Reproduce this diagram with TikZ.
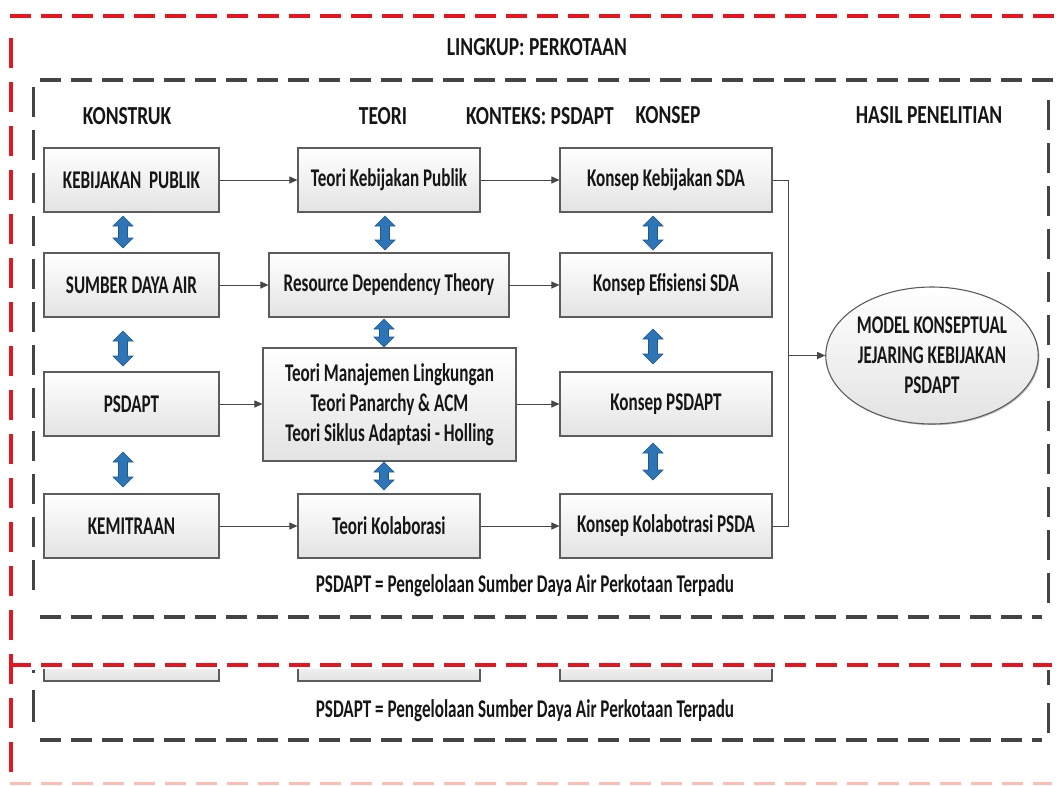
\documentclass[tikz,border=0pt]{standalone}
\usepackage{fontspec}
\setmainfont{Carlito}[FakeStretch=0.67]
\newfontfamily\hdrfont{Carlito}[FakeStretch=0.75]
\usetikzlibrary{arrows.meta,shapes.geometric,shadows}
\definecolor{redline}{RGB}{228,22,32}
\definecolor{redfaint}{RGB}{252,190,178}
\definecolor{grayline}{RGB}{68,68,68}
\definecolor{ablue}{RGB}{46,117,182}
\definecolor{ablueedge}{RGB}{28,88,148}
\definecolor{txt}{RGB}{22,22,22}
\definecolor{boxedge}{RGB}{92,92,92}
\newcommand{\bluedbl}[3]{%
  \filldraw[fill=ablue,draw=ablueedge,line width=0.6pt]
  ({#1-4.5},{#2+10}) -- ({#1-10},{#2+10}) -- (#1,#2) -- ({#1+10},{#2+10}) -- ({#1+4.5},{#2+10})
  -- ({#1+4.5},{#3-10}) -- ({#1+10},{#3-10}) -- (#1,#3) -- ({#1-10},{#3-10}) -- ({#1-4.5},{#3-10}) -- cycle;}
\begin{document}
\begin{tikzpicture}[x=1pt,y=-1pt,
  box/.style={draw=boxedge, line width=1.1pt, top color=white, bottom color=black!11,
    minimum height=64pt, inner sep=2pt, text=txt, align=center,
    font=\bfseries\fontsize{25.5}{30}\selectfont,
    drop shadow={shadow xshift=1.2pt,shadow yshift=-1.2pt,opacity=0.25,fill=black}},
  hdr/.style={text=txt, font=\hdrfont\bfseries\fontsize{26}{30}\selectfont, inner sep=0pt},
  note/.style={text=txt, font=\bfseries\fontsize{25.5}{30}\selectfont, inner sep=0pt},
  hred/.style={draw=redline, line width=3.8pt, dash pattern=on 21pt off 10pt},
  vred/.style={draw=redline, line width=3.8pt, dash pattern=on 30pt off 14pt},
  hgray/.style={draw=grayline, line width=3.8pt, dash pattern=on 21pt off 10pt},
  vgray/.style={draw=grayline, line width=3pt, dash pattern=on 30pt off 13pt},
  link/.style={draw=black!72, line width=1pt},
  conn/.style={link, -{Triangle[length=8pt,width=7pt]}}
]
\useasboundingbox (0,0) rectangle (1060,785);
\fill[white] (0,0) rectangle (1060,785);

% ---------- frames ----------
\draw[hred] (10,16) -- (1060,16);
\draw[vred] (11,38) -- (11,785);
\draw[hgray] (40,80) -- (1060,80);
\draw[vgray] (33,87) -- (33,600);
\draw[vgray] (1048,100) -- (1048,612);
\draw[hgray] (40,617) -- (1042,617);

% ---------- headers ----------
\node[hdr] (lingkup) at (537,47) {LINGKUP: PERKOTAAN};
\node[hdr] (hkonstruk) at (127,116) {KONSTRUK};
\node[hdr] (hteori) at (383,116) {TEORI};
\node[hdr] (hkonteks) at (540,116) {KONTEKS: PSDAPT};
\node[hdr] (hkonsep) at (668,115) {KONSEP};
\node[hdr] (hhasil) at (929,115) {HASIL PENELITIAN};

% ---------- column 1 ----------
\node[box, minimum width=175pt] (c1) at (131.5,180) {KEBIJAKAN\ \ PUBLIK};
\node[box, minimum width=175pt] (c2) at (131.5,285) {SUMBER DAYA AIR};
\node[box, minimum width=175pt] (c3) at (131.5,404) {PSDAPT};
\node[box, minimum width=175pt] (c4) at (131.5,526) {KEMITRAAN};

% ---------- column 2 ----------
\node[box, minimum width=182pt] (t1) at (389,180) {Teori Kebijakan Publik};
\node[box, minimum width=240pt] (t2) at (389,285) {Resource Dependency Theory};
\node[box, minimum width=253pt, minimum height=113pt] (t3) at (389.5,404.5)
  {Teori Manajemen Lingkungan\\Teori Panarchy \& ACM\\Teori Siklus Adaptasi - Holling};
\node[box, minimum width=182pt] (t4) at (389,526) {Teori Kolaborasi};

% ---------- column 3 ----------
\node[box, minimum width=212pt] (k1) at (666,180) {Konsep Kebijakan SDA};
\node[box, minimum width=212pt] (k2) at (666,285) {Konsep Efisiensi SDA};
\node[box, minimum width=212pt] (k3) at (666,404) {Konsep PSDAPT};
\node[box, minimum width=212pt] (k4) at (666,526) {Konsep Kolabotrasi PSDA};

% ---------- result ----------
\node[ellipse, draw=boxedge, line width=1.1pt, top color=white, bottom color=black!11,
  minimum width=208pt, minimum height=137pt, inner sep=0pt, align=center, text=txt,
  font=\bfseries\fontsize{25.5}{30}\selectfont,
  drop shadow={shadow xshift=1.2pt,shadow yshift=-1.2pt,opacity=0.25,fill=black}]
  (model) at (932,355.5) {MODEL KONSEPTUAL\\JEJARING KEBIJAKAN\\PSDAPT};

% ---------- horizontal arrows ----------
\draw[conn] (c1.east) -- (t1.west |- c1.east);
\draw[conn] (t1.east) -- (k1.west |- t1.east);
\draw[conn] (c2.east) -- (t2.west |- c2.east);
\draw[conn] (t2.east) -- (k2.west |- t2.east);
\draw[conn] (c3.east) -- (t3.west |- c3.east);
\draw[conn] (t3.east |- k3.west) -- (k3.west);
\draw[conn] (c4.east) -- (t4.west |- c4.east);
\draw[conn] (t4.east) -- (k4.west |- t4.east);

% ---------- collector to model ----------
\coordinate (j1) at (788,180);
\coordinate (j4) at (788,526);
\coordinate (jm) at (788,355.5);
\draw[link] (k1.east) -- (j1) -- (j4) -- (k4.east);
\draw[conn] (jm) -- (model.west);

% ---------- blue double arrows ----------
\bluedbl{123}{216}{248}
\bluedbl{123}{331}{366}
\bluedbl{123}{452}{487}
\bluedbl{385}{216}{250}
\bluedbl{384}{319}{347}
\bluedbl{384}{462}{490}
\bluedbl{653}{216}{250}
\bluedbl{653}{329}{364}
\bluedbl{653}{443}{480}

% ---------- legend ----------
\node[note] (legend) at (525,586) {PSDAPT = Pengelolaan Sumber Daya Air Perkotaan Terpadu};

% ---------- duplicated lower strip ----------
\draw[draw=boxedge, line width=1.1pt, top color=white, bottom color=black!11] (44,650) rectangle (219,681);
\draw[draw=boxedge, line width=1.1pt, top color=white, bottom color=black!11] (298,650) rectangle (480,681);
\draw[draw=boxedge, line width=1.1pt, top color=white, bottom color=black!11] (560,650) rectangle (772,681);
\fill[white] (0,640) rectangle (1060,669);
\draw[vred] (11,38) -- (11,785);
\draw[hred] (10,665) -- (1052,665);
\draw[draw=grayline, line width=3pt] (33,670) -- (33,673);
\draw[draw=grayline, line width=3pt] (33,690) -- (33,722);
\draw[draw=grayline, line width=3pt] (1048,670) -- (1048,685);
\draw[draw=grayline, line width=3pt] (1048,703) -- (1048,733);
\node[note] (legendb) at (525,711) {PSDAPT = Pengelolaan Sumber Daya Air Perkotaan Terpadu};
\draw[hgray] (40,740) -- (1042,740);
\draw[draw=redfaint, line width=3pt, dash pattern=on 21pt off 10pt] (10,783) -- (1052,783);
\end{tikzpicture}
\end{document}
